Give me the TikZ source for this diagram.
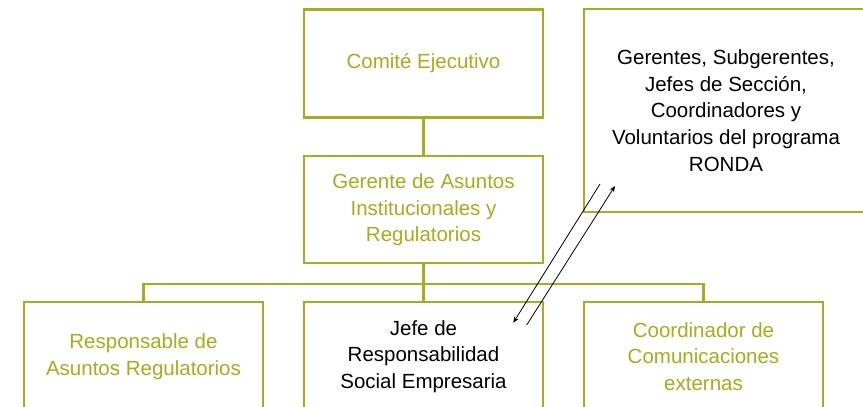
\documentclass[tikz,border=0pt]{standalone}
\usepackage{fontspec}
\setmainfont{Liberation Sans}
\usetikzlibrary{arrows.meta}
\definecolor{olive}{RGB}{164,174,30}
\begin{document}
\begin{tikzpicture}[x=1pt,y=-1pt,
  box/.style={draw=olive,line width=2.2pt,fill=white,minimum width=239.6pt,minimum height=108pt,
    inner sep=0pt,align=center,font=\fontsize{20.5}{26.6}\selectfont},
  olivetext/.style={text=olive},
  blacktext/.style={text=black},
  link/.style={draw=olive,line width=2.2pt},
  relarrow/.style={draw=black,line width=0.8pt,-{Stealth[length=6pt,width=5pt]}}]
\useasboundingbox (0,0) rectangle (863,407);
\clip (0,0) rectangle (863,407);
\fill[white] (0,0) rectangle (863,407);
\node[box,olivetext] (ce) at (423.5,63.5) {Comité Ejecutivo};
\node[box,olivetext,minimum height=107.3pt] (ga) at (423.5,209.7) {Gerente de Asuntos\\Institucionales y\\Regulatorios};
\node[box,blacktext,minimum width=284pt,minimum height=202.4pt] (gr) at (726,110.5) {Gerentes, Subgerentes,\\Jefes de Sección,\\Coordinadores y\\Voluntarios del programa\\RONDA};
\node[box,olivetext,minimum height=108.4pt] (rar) at (143.5,356.5) {Responsable de\\Asuntos Regulatorios};
\node[box,blacktext,minimum height=108.4pt] (jrs) at (423.5,356.5) {Jefe de\\Responsabilidad\\Social Empresaria};
\node[box,olivetext,minimum height=108.4pt] (cce) at (703.5,356.5) {Coordinador de\\Comunicaciones\\externas};
\coordinate (bar) at (423.5,284.3);
\draw[link] (ce.south) -- (ga.north);
\draw[link] (ga.south) -- (bar);
\draw[link] (rar.north) |- (bar) -| (cce.north);
\draw[link] (bar) -- (jrs.north);
\coordinate (a1s) at (600,184);
\coordinate (a1e) at (513.3,322.7);
\coordinate (a2s) at (526.7,325);
\coordinate (a2e) at (615,186);
\draw[relarrow] (a1s) -- (a1e);
\draw[relarrow] (a2s) -- (a2e);
\end{tikzpicture}
\end{document}
